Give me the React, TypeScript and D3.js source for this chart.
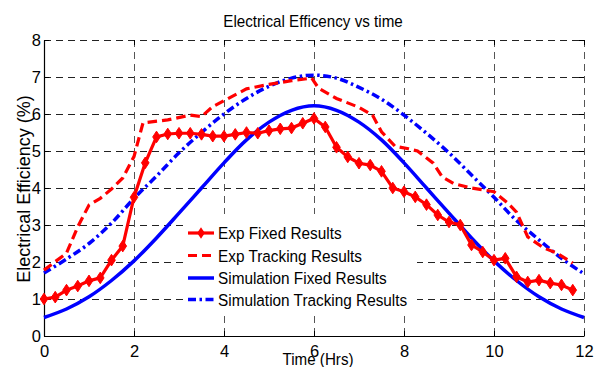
import React, { useEffect, useRef } from "react";
import * as d3 from "d3";

// ---- Data ----
const expFixedTime = [
  0, 0.25, 0.5, 0.75, 1, 1.25, 1.5, 1.75, 2, 2.25, 2.5, 2.75, 3, 3.25, 3.5, 3.75,
  4, 4.25, 4.5, 4.75, 5, 5.25, 5.5, 5.75, 6, 6.25, 6.5, 6.75, 7, 7.25, 7.5, 7.75,
  8, 8.25, 8.5, 8.75, 9, 9.25, 9.5, 9.75, 10, 10.25, 10.5, 10.75, 11, 11.25, 11.5, 11.75,
];
const expFixedValues = [
  1.0, 1.05, 1.24, 1.35, 1.49, 1.57, 2.05, 2.43, 3.75, 4.68, 5.38, 5.46, 5.48, 5.48, 5.45, 5.4,
  5.4, 5.45, 5.5, 5.48, 5.55, 5.6, 5.62, 5.75, 5.88, 5.65, 5.1, 4.84, 4.67, 4.62, 4.45, 4.0,
  3.9, 3.76, 3.55, 3.27, 3.08, 3.0, 2.46, 2.27, 2.05, 2.1, 1.6, 1.46, 1.51, 1.43, 1.38, 1.24,
];

const expTrackTime = [
  0, 0.5, 0.75, 1.0, 1.25, 1.5, 1.75, 2.0, 2.2, 2.75, 3.25, 3.5, 3.75, 4.0, 4.5, 5.0, 5.5, 5.95,
  6.1, 6.5, 7.0, 7.3, 7.5, 7.8, 8.1, 8.3, 8.65, 8.85, 9.1, 9.5, 10.0, 10.3, 10.5, 10.75, 11.1,
  11.4, 11.75,
];
const expTrackValues = [
  1.78, 2.24, 2.95, 3.54, 3.72, 3.97, 4.27, 4.85, 5.76, 5.84, 5.97, 5.93, 6.2, 6.36, 6.68, 6.8,
  6.9, 6.97, 6.7, 6.42, 6.18, 5.97, 5.52, 5.13, 5.06, 5.0, 4.67, 4.3, 4.12, 4.0, 3.9, 3.6, 3.35,
  2.68, 2.38, 2.24, 1.97,
];

const simTime = [
  0, 0.5, 1, 1.5, 2, 2.5, 3, 3.5, 4, 4.5, 5, 5.5, 6, 6.5, 7, 7.5, 8, 8.5, 9, 9.5, 10, 10.5, 11,
  11.5, 12,
];
const simFixedValues = [
  0.5, 0.73, 1.06, 1.5, 2.03, 2.65, 3.32, 4.0, 4.68, 5.3, 5.78, 6.1, 6.22, 6.1, 5.78, 5.3, 4.68,
  4.0, 3.32, 2.65, 2.03, 1.5, 1.06, 0.73, 0.5,
];
const simTrackValues = [
  1.7, 2.08, 2.5, 3.05, 3.72, 4.32, 4.95, 5.5, 6.0, 6.42, 6.75, 6.97, 7.05, 6.97, 6.72, 6.4,
  5.97, 5.48, 4.95, 4.35, 3.75, 3.12, 2.6, 2.1, 1.68,
];

const xTicks = [0, 2, 4, 6, 8, 10, 12];
const yTicks = [0, 1, 2, 3, 4, 5, 6, 7, 8];
const legendLabels = [
  "Exp Fixed Results",
  "Exp Tracking Results",
  "Simulation Fixed Results",
  "Simulation Tracking Results",
];
const titleText = "Electrical Efficency vs time";
const xLabel = "Time (Hrs)";
const yLabel = "Electrical Efficiency (%)";

const W = 604;
const H = 367;
const FONT = "'Liberation Sans', Arial, Helvetica, sans-serif";
const RED = "#ff0000";
const BLUE = "#0000ff";

export default function App() {
  const ref = useRef<SVGSVGElement | null>(null);

  useEffect(() => {
    document.body.style.margin = "0";
    const svg = d3.select(ref.current);
    svg.selectAll("*").remove();

    const x = d3.scaleLinear().domain([0, 12]).range([44, 584]);
    const y = d3.scaleLinear().domain([0, 8]).range([336, 40]);

    svg.append("rect").attr("width", W).attr("height", H).attr("fill", "#fff");

    // grid
    const grid = svg.append("g");
    yTicks.filter((t) => t > 0).forEach((t) => {
      const yy = Math.round(y(t)) + 0.5;
      grid.append("line")
        .attr("x1", x(0)).attr("x2", x(12)).attr("y1", yy).attr("y2", yy)
        .attr("stroke", "#222").attr("stroke-width", 1).attr("stroke-dasharray", "7,5");
    });
    xTicks.filter((t) => t > 0).forEach((t) => {
      const xx = Math.round(x(t)) + 0.5;
      grid.append("line")
        .attr("x1", xx).attr("x2", xx).attr("y1", y(8)).attr("y2", y(0))
        .attr("stroke", "#555").attr("stroke-width", 1).attr("stroke-dasharray", "7,5");
    });

    // axes
    const xAxis = svg.append("g").attr("transform", `translate(0,${y(0)})`)
      .call(d3.axisBottom(x).tickValues(xTicks).tickSize(-5).tickSizeOuter(0).tickPadding(9).tickFormat(d3.format("d")));
    const yAxis = svg.append("g").attr("transform", `translate(${x(0)},0)`)
      .call(d3.axisLeft(y).tickValues(yTicks).tickSize(-5).tickSizeOuter(0).tickPadding(3).tickFormat(d3.format("d")));
    const topAxis = svg.append("g").attr("transform", `translate(0,${y(8)})`)
      .call(d3.axisTop(x).tickValues(xTicks).tickSize(-5).tickSizeOuter(0).tickFormat(() => ""));
    const rightAxis = svg.append("g").attr("transform", `translate(${x(12)},0)`)
      .call(d3.axisRight(y).tickValues(yTicks).tickSize(-5).tickSizeOuter(0).tickFormat(() => ""));
    topAxis.select(".domain").remove();
    rightAxis.select(".domain").remove();
    [xAxis, yAxis].forEach((a) => {
      a.attr("font-size", 16.5).attr("font-family", FONT);
      a.selectAll("text").attr("fill", "#000");
      a.select(".domain").attr("stroke", "#000").attr("stroke-width", 1.2);
    });
    [xAxis, yAxis, topAxis, rightAxis].forEach((a) => a.selectAll(".tick line").attr("stroke", "#000"));

    // series
    const lineLin = d3.line<[number, number]>().x((d) => x(d[0])).y((d) => y(d[1]));
    const lineSmooth = d3.line<[number, number]>().x((d) => x(d[0])).y((d) => y(d[1])).curve(d3.curveCatmullRom);

    const simFixedData = simTime.map((t, i) => [t, simFixedValues[i]] as [number, number]);
    const simTrackData = simTime.map((t, i) => [t, simTrackValues[i]] as [number, number]);
    const expTrackData = expTrackTime.map((t, i) => [t, expTrackValues[i]] as [number, number]);
    const expFixedData = expFixedTime.map((t, i) => [t, expFixedValues[i]] as [number, number]);

    svg.append("path").attr("d", lineSmooth(simFixedData)!).attr("fill", "none")
      .attr("stroke", BLUE).attr("stroke-width", 3.5);
    svg.append("path").attr("d", lineSmooth(simTrackData)!).attr("fill", "none")
      .attr("stroke", BLUE).attr("stroke-width", 3.5).attr("stroke-dasharray", "8,3.5,2.5,3.5");
    svg.append("path").attr("d", lineLin(expTrackData)!).attr("fill", "none")
      .attr("stroke", RED).attr("stroke-width", 3.2).attr("stroke-dasharray", "9.5,5");
    svg.append("path").attr("d", lineLin(expFixedData)!).attr("fill", "none")
      .attr("stroke", RED).attr("stroke-width", 3.2);
    const diamond = (cx: number, cy: number) =>
      `M${cx},${cy - 5.8}L${cx + 3.8},${cy}L${cx},${cy + 5.8}L${cx - 3.8},${cy}Z`;
    svg.append("g").selectAll("path").data(expFixedData).enter().append("path")
      .attr("d", (d) => diamond(x(d[0]), y(d[1]))).attr("fill", RED).attr("stroke", RED).attr("stroke-width", 1);

    // legend
    const lg = svg.append("g");
    lg.append("rect").attr("x", 184).attr("y", 214).attr("width", 233).attr("height", 98).attr("fill", "#fff");
    const rows = [233, 255.5, 278, 299.5];
    const styles = [
      { stroke: RED, dash: null, w: 3.2, marker: true },
      { stroke: RED, dash: "9,5", w: 3.2, marker: false },
      { stroke: BLUE, dash: null, w: 3.5, marker: false },
      { stroke: BLUE, dash: "8,3.5,2.5,3.5", w: 3.5, marker: false },
    ];
    legendLabels.forEach((lab, i) => {
      const cy = rows[i];
      const s = styles[i];
      const ln = lg.append("line").attr("x1", 188).attr("x2", 214).attr("y1", cy).attr("y2", cy)
        .attr("stroke", s.stroke).attr("stroke-width", s.w);
      if (s.dash) ln.attr("stroke-dasharray", s.dash);
      if (s.marker) lg.append("path").attr("d", diamond(201, cy)).attr("fill", RED);
      lg.append("text").attr("transform", `translate(218,${cy + 6}) scale(0.93,1)`)
        .attr("font-size", 16.5).attr("font-family", FONT).attr("fill", "#000").text(lab);
    });

    // titles
    svg.append("text").attr("transform", "translate(313,26.7) scale(0.95,1)").attr("text-anchor", "middle")
      .attr("font-size", 16).attr("font-family", FONT).text(titleText);
    svg.append("text").attr("transform", "translate(318,365) scale(0.92,1)").attr("text-anchor", "middle")
      .attr("font-size", 16.5).attr("font-family", FONT).text(xLabel);
    svg.append("text").attr("transform", "translate(29.5,189) rotate(-90)").attr("text-anchor", "middle")
      .attr("font-size", 18).attr("font-family", FONT).text(yLabel);
  }, []);

  return <svg ref={ref} width={W} height={H} style={{ display: "block" }} />;
}
